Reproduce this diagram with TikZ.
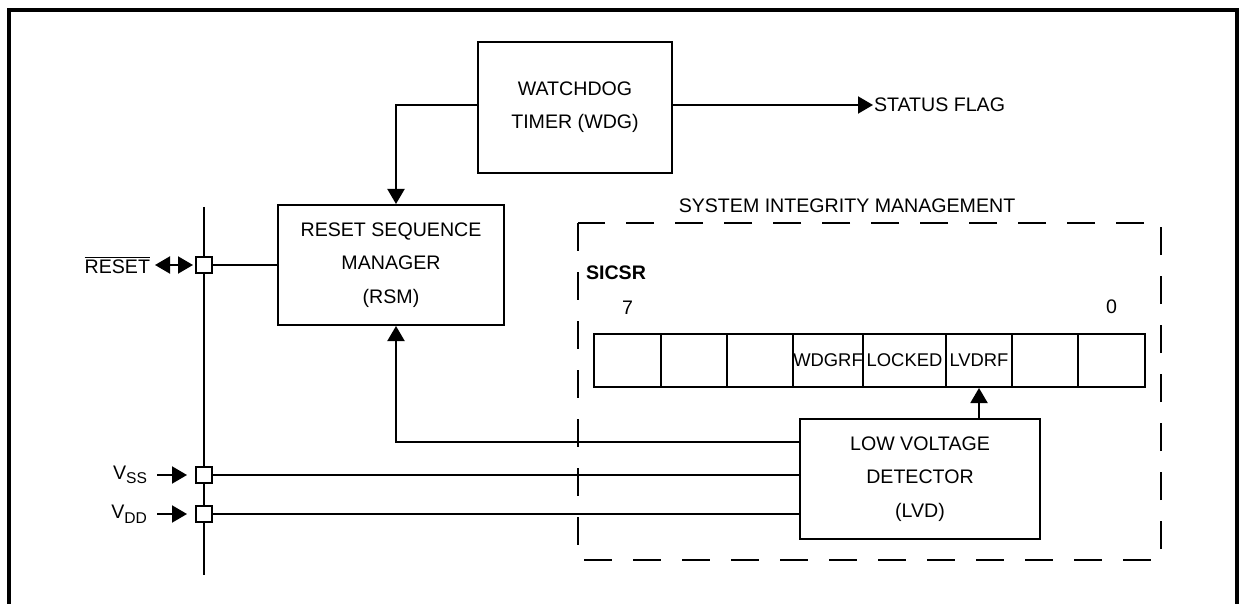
\documentclass[tikz,border=0pt]{standalone}
\usepackage{fontspec}
\setmainfont{Liberation Sans}
\usetikzlibrary{arrows.meta,positioning}
\newcommand{\pinsub}[1]{\raisebox{-0.45ex}{\fontsize{7.8}{9}\selectfont #1}}

\begin{document}
\begin{tikzpicture}[x=0.5pt,y=-0.5pt,line width=1pt,
	>={Triangle[length=7.5pt,width=8.5pt]},
	block/.style={draw,rectangle,align=center,inner sep=0pt,font=\fontsize{9.8}{16.6}\selectfont},
	cell/.style={draw,rectangle,inner sep=0pt,minimum height=26.5pt,font=\fontsize{9.2}{11}\selectfont},
	pinbox/.style={draw,rectangle,fill=white,minimum size=8pt,inner sep=0pt},
	lbl/.style={inner sep=0pt,font=\fontsize{9.8}{12}\selectfont}]
			\useasboundingbox (0,0) rectangle (1241,604);
			\draw[line width=1.6pt] (9,606) -- (9,10) -- (1237,10) -- (1237,606);
			% blocks
			\node[block,minimum width=97pt,minimum height=65.5pt] (wdg) at (575,107.5) {WATCHDOG\\TIMER (WDG)};
			\node[block,minimum width=113pt,minimum height=60pt] (rsm) at (391,265) {RESET SEQUENCE\\MANAGER\\(RSM)};
			\node[block,minimum width=120pt,minimum height=60pt] (lvd) at (920,479) {LOW VOLTAGE\\DETECTOR\\(LVD)};
			\node[lbl,anchor=west] (flag) at (873,105) {STATUS FLAG};
			% system integrity management
			\draw[dash pattern=on 14pt off 10.5pt] (578,223) rectangle (1161,560);
			\node[lbl] (sim) at (847,206) {SYSTEM INTEGRITY MANAGEMENT};
			\node[lbl,font=\bfseries\fontsize{9.8}{12}\selectfont,anchor=west] (sicsr) at (585,273) {SICSR};
			\foreach \l/\r/\t/\n in {594/661//7,661/727//6,727/793//5,793/863/WDGRF/4,863/946/LOCKED/3,946/1012/LVDRF/2,1012/1078//1,1078/1145//0}
				\node[cell,minimum width={(\r-\l)*0.5pt}] (b\n) at ({(\l+\r)/2},360.5) {\t};
			\node[lbl,above=9pt of b7] (bit7) {7};
			\node[lbl,above=9pt of b0] (bit0) {0};
			% pins
			\coordinate (bustop) at (204,207);
			\coordinate (busbot) at (204,575);
			\draw (bustop) -- (busbot);
			\node[pinbox] (rstpin) at (204,265) {};
			\node[pinbox] (vsspin) at (204,475) {};
			\node[pinbox] (vddpin) at (204,514) {};
			\node[lbl,anchor=east] (rstlbl) at (151,265) {$\overline{\hbox{RESET}}$};
			\node[lbl,anchor=east] (vsslbl) at (148,475) {V\pinsub{SS}};
			\node[lbl,anchor=east] (vddlbl) at (148,514) {V\pinsub{DD}};
			% connections
			\draw[<->] ([xshift=2pt]rstlbl.east) -- ([xshift=-1pt]rstpin.west);
			\draw[->,shorten >=4pt] ([xshift=4.5pt]vsslbl.east) -- (vsspin.west);
			\draw[->,shorten >=4pt] ([xshift=4.5pt]vddlbl.east) -- (vddpin.west);
			\draw (rstpin.east) -- (rstpin -| rsm.west);
			\draw (vsspin.east) -- (vsspin -| lvd.west);
			\draw (vddpin.east) -- (vddpin -| lvd.west);
			\draw[->] ([yshift=1.25pt]wdg.west) -| ([xshift=2.5pt]rsm.north);
			\draw[->] ([yshift=18.5pt]lvd.west) -| ([xshift=2.5pt]rsm.south);
			\draw[->] (lvd.north -| b2) -- (b2.south);
			\draw[->] (flag -| wdg.east) -- (flag.west);
		\end{tikzpicture}
\end{document}
